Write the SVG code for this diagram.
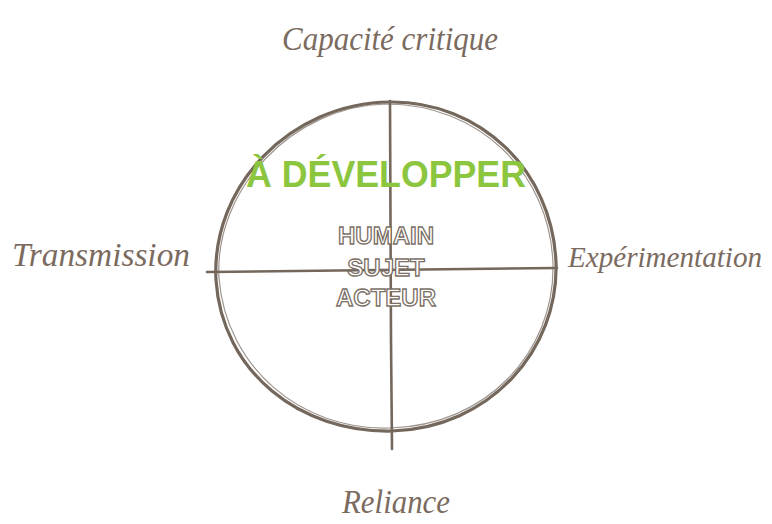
<svg xmlns="http://www.w3.org/2000/svg" width="772" height="524" viewBox="0 0 772 524">
<style>
.script{font-family:"Liberation Serif","DejaVu Serif",serif;font-style:italic;fill:#7b6b5f;font-size:33px}
.line{stroke:#74675c;fill:none;stroke-linecap:round}
.outline{font-family:"Liberation Sans","Arial",sans-serif;font-weight:bold;font-size:24px;fill:#ffffff;stroke:#7b6f66;stroke-width:1.3;text-anchor:middle}
</style>
<rect width="772" height="524" fill="#ffffff"/>
<g id="circle">
<path class="line" stroke-width="3.2" d="M390 102 C 480 101 552 170 556 262 C 559 350 490 428 392 431 C 300 433 222 372 216 280 C 211 186 290 103 390 102 Z"/>
<path class="line" stroke-width="1.2" opacity="0.7" d="M386 104 C 478 104 550 172 553 264 C 555 352 486 426 390 428 C 302 431 226 368 219 278 C 214 190 292 106 386 104"/>
</g>
<g id="connectors">
<path class="line" stroke-width="2.6" d="M390 101 L 391 340 L 392 449"/>
<path class="line" stroke-width="2.6" d="M207 272 L 380 270 L 557 268"/>
</g>
<g id="center">
<text x="386" y="187" font-family="Liberation Sans, Arial, sans-serif" font-weight="bold" font-size="37" fill="#8cc63e" text-anchor="middle" textLength="280" lengthAdjust="spacingAndGlyphs">À DÉVELOPPER</text>
<text class="outline" x="386" y="244">HUMAIN</text>
<text class="outline" x="386" y="276">SUJET</text>
<text class="outline" x="386" y="306">ACTEUR</text>
</g>
<g id="top"><text class="script" x="282" y="50" textLength="216" lengthAdjust="spacingAndGlyphs">Capacité critique</text></g>
<g id="left"><text class="script" x="12" y="266" textLength="178" lengthAdjust="spacingAndGlyphs">Transmission</text></g>
<g id="right"><text class="script" x="568" y="267" font-size="29" style="font-size:29px" textLength="194" lengthAdjust="spacingAndGlyphs">Expérimentation</text></g>
<g id="bottom"><text class="script" x="342" y="513" textLength="108" lengthAdjust="spacingAndGlyphs">Reliance</text></g>
</svg>
